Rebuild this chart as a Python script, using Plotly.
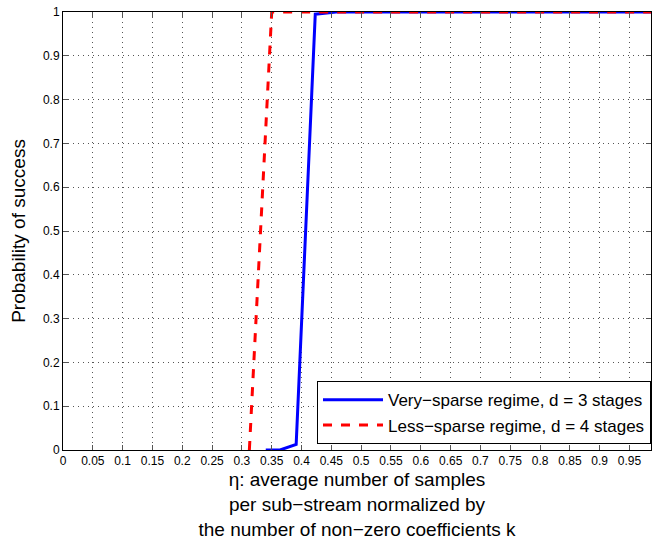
import plotly.graph_objects as go

# Data
eta_sparse = [0.340, 0.364, 0.391, 0.423, 0.458, 0.50, 0.55, 0.60, 0.65, 0.70, 0.75, 0.80, 0.85, 0.90, 0.95, 1.0]
p_sparse = [0.0, 0.0, 0.013, 0.995, 1.0, 1.0, 1.0, 1.0, 1.0, 1.0, 1.0, 1.0, 1.0, 1.0, 1.0, 1.0]
eta_less = [0.3125, 0.350, 0.40, 0.45, 0.50, 0.55, 0.60, 0.65, 0.70, 0.75, 0.80, 0.85, 0.90, 0.95, 1.0]
p_less = [0.0, 1.0, 1.0, 1.0, 1.0, 1.0, 1.0, 1.0, 1.0, 1.0, 1.0, 1.0, 1.0, 1.0, 1.0]

x_tickvals = [i * 0.05 for i in range(20)]
x_ticktext = ["0", "0.05", "0.1", "0.15", "0.2", "0.25", "0.3", "0.35", "0.4", "0.45",
              "0.5", "0.55", "0.6", "0.65", "0.7", "0.75", "0.8", "0.85", "0.9", "0.95"]
y_tickvals = [i / 10 for i in range(11)]
y_ticktext = ["0", "0.1", "0.2", "0.3", "0.4", "0.5", "0.6", "0.7", "0.8", "0.9", "1"]

FONT = "Liberation Sans, Arial, sans-serif"

fig = go.Figure()
fig.add_trace(go.Scatter(x=eta_sparse, y=p_sparse, mode="lines",
                         line=dict(color="#0000ff", width=3),
                         name="Very\u2212sparse regime, d = 3 stages"))
fig.add_trace(go.Scatter(x=eta_less, y=p_less, mode="lines",
                         line=dict(color="#ff0000", width=3, dash="dash"),
                         name="Less\u2212sparse regime, d = 4 stages"))

axis_common = dict(showline=True, linecolor="black", linewidth=1, mirror="allticks",
                   ticks="inside", ticklen=5, tickcolor="#555555",
                   showgrid=True, gridcolor="#555555", griddash="1px,4px", gridwidth=1,
                   zeroline=False, automargin=False, ticklabeloverflow="allow",
                   tickfont=dict(family=FONT, size=12, color="black"))

fig.update_xaxes(range=[0, 0.986], tickvals=x_tickvals, ticktext=x_ticktext,
                 title=dict(text="\u03b7: average number of samples<br>per sub\u2212stream normalized by<br>the number of non\u2212zero coefficients k",
                            font=dict(family=FONT, size=19, color="black"), standoff=5),
                 **axis_common)
fig.update_yaxes(range=[0, 1], tickvals=y_tickvals, ticktext=y_ticktext,
                 title=dict(text="Probability of success",
                            font=dict(family=FONT, size=19, color="black"), standoff=12),
                 **axis_common)

fig.update_layout(
    width=652, height=544,
    margin=dict(l=63, r=1, t=12, b=94),
    paper_bgcolor="white", plot_bgcolor="white",
    showlegend=True,
    legend=dict(x=1.0, y=0.013, xanchor="right", yanchor="bottom",
                bgcolor="white", bordercolor="black", borderwidth=1,
                font=dict(family=FONT, size=17, color="black"),
                tracegroupgap=0, itemwidth=60),
)

post = ("document.body.style.margin='0px';"
        "document.body.style.overflow='hidden';"
        "var gd=document.getElementById('{plot_id}');"
        "Plotly.relayout(gd,{width:652,height:544});")

fig.write_html("out.html", config={"responsive": False, "displayModeBar": False},
               post_script=post)
